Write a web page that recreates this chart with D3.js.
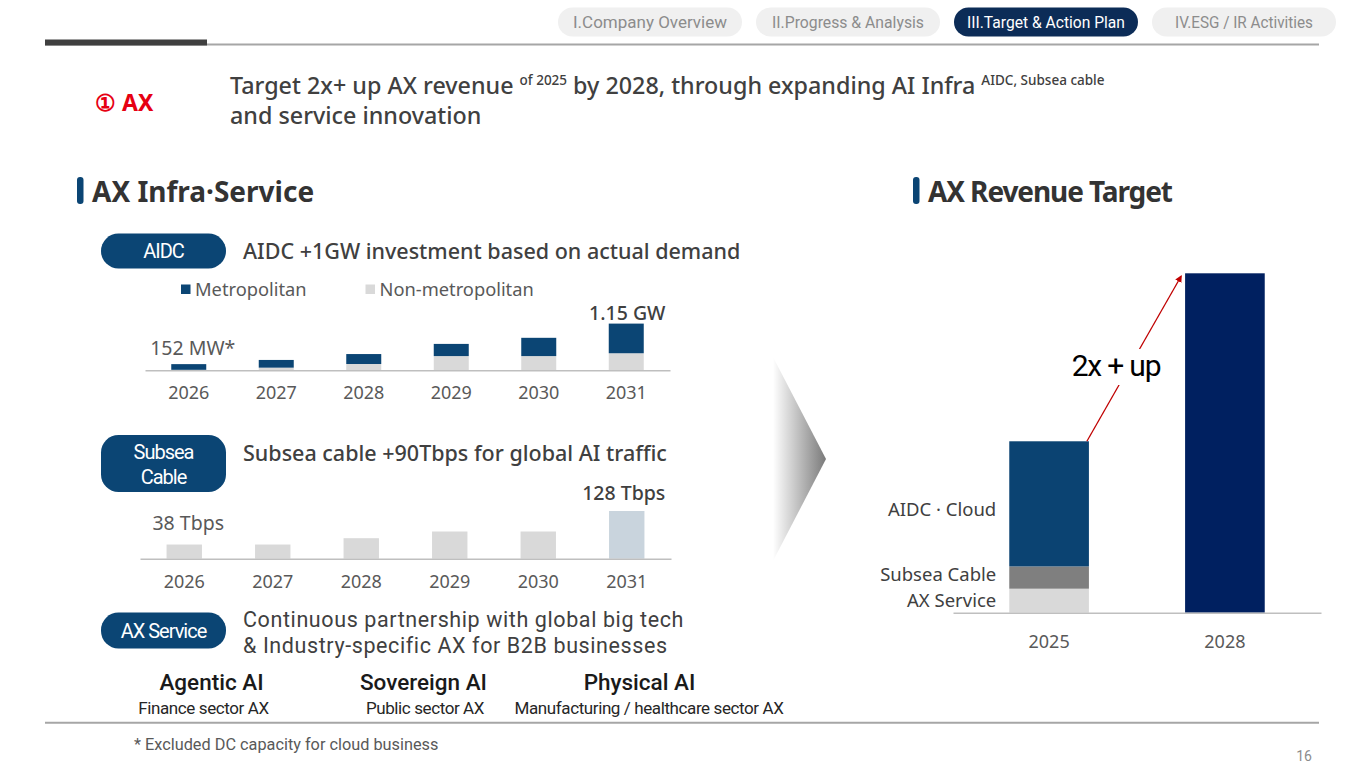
<!DOCTYPE html>
<html lang="en">
<head>
<meta charset="UTF-8">
<title>AX Revenue Target</title>
<style>
  body { margin: 0; background: #fff; }
  svg { display: block; }
  text { font-family: "Noto Sans", sans-serif; }
  .cond { font-family: Roboto, sans-serif; }
  .axis path { stroke: #bfbfbf; stroke-width: 1.5px; }
  .axis text { font-family: "Noto Sans", sans-serif; font-size: 18px; fill: #595959; }
</style>
</head>
<body>
<script src="https://d3js.org/d3.v7.min.js"></script>
<script>
// header tabs
const tabs = ["I.Company Overview", "II.Progress & Analysis", "III.Target & Action Plan", "IV.ESG / IR Activities"];
const activeTab = 2;

// AIDC capacity (MW)
const years = ["2026", "2027", "2028", "2029", "2030", "2031"];
const metroMW = [140, 190, 245, 300, 450, 730];
const nonMetroMW = [12, 65, 155, 350, 350, 420];

// subsea cable capacity (Tbps)
const subseaTbps = [38, 38, 55, 73, 73, 128];

// AX revenue, 2025 = 100
const revYears = ["2025", "2028"];
const revSegments = ["AX Service", "Subsea Cable", "AIDC · Cloud"];
const rev2025 = [14, 13, 73];
const rev2028 = 198;

// AX service tracks
const axTracks = ["Agentic AI", "Sovereign AI", "Physical AI"];
const axSectors = ["Finance sector AX", "Public sector AX", "Manufacturing / healthcare sector AX"];

const W = 1365, H = 768;
const svg = d3.select("body").append("svg")
    .attr("width", W)
    .attr("height", H);

const defs = svg.append("defs");
const grad = defs.append("linearGradient")
    .attr("id", "chev")
    .attr("x1", "0%").attr("x2", "100%")
    .attr("y1", "0%").attr("y2", "0%");
grad.append("stop").attr("offset", "0%").attr("stop-color", "#ffffff");
grad.append("stop").attr("offset", "100%").attr("stop-color", "#7a7a7a");

defs.append("marker")
    .attr("id", "arrowhead")
    .attr("viewBox", "0 0 10 10")
    .attr("refX", 8).attr("refY", 5)
    .attr("markerWidth", 7).attr("markerHeight", 7)
    .attr("markerUnits", "userSpaceOnUse")
    .attr("orient", "auto")
    .append("path")
    .attr("d", "M0,0 L10,5 L0,10 Z")
    .attr("fill", "#c00000");

// ---------- header ----------
const tabX = [558, 756, 954, 1152];
const tabTextW = [154, 152, 158, 138];
const tab = svg.selectAll("g.tab").data(tabs).enter().append("g")
    .attr("class", "tab")
    .attr("transform", (d, i) => `translate(${tabX[i]},7.5)`);
tab.append("rect")
    .attr("width", 184).attr("height", 29).attr("rx", 14.5)
    .attr("fill", (d, i) => i === activeTab ? "#0c2c57" : "#f0f0f0");
tab.append("text")
    .attr("class", "cond")
    .attr("x", 92).attr("y", 20.5)
    .attr("text-anchor", "middle")
    .attr("font-size", 17)
    .attr("textLength", (d, i) => tabTextW[i])
    .attr("lengthAdjust", "spacingAndGlyphs")
    .attr("fill", (d, i) => i === activeTab ? "#ffffff" : "#8c8c8c")
    .text(d => d);

svg.append("line")
    .attr("x1", 45).attr("x2", 1319).attr("y1", 44.5).attr("y2", 44.5)
    .attr("stroke", "#a6a6a6").attr("stroke-width", 2);
svg.append("rect")
    .attr("x", 45).attr("y", 39.5).attr("width", 162).attr("height", 6)
    .attr("fill", "#3f3f3f");

// ---------- title ----------
svg.append("text")
    .attr("x", 95).attr("y", 111)
    .attr("font-size", 23).attr("font-weight", 700)
    .attr("fill", "#e60012")
    .text("① AX");

const title = svg.append("text")
    .attr("x", 230).attr("y", 93.5)
    .attr("font-size", 23.3).attr("font-weight", 500)
    .attr("fill", "#404040");
title.append("tspan").text("Target 2x+ up AX revenue ");
title.append("tspan").attr("font-size", 13.5).attr("dy", -8.5).text("of 2025");
title.append("tspan").attr("dy", 8.5).text("  by 2028, through expanding AI Infra ");
title.append("tspan").attr("font-size", 13.5).attr("dy", -8.5).text("AIDC, Subsea cable");
title.append("tspan")
    .attr("x", 230).attr("dy", 38.5)
    .text("and service innovation");

// ---------- section headers ----------
function sectionHeader(x, label, spacing) {
    svg.append("rect")
        .attr("x", x).attr("y", 177).attr("width", 6.5).attr("height", 27).attr("rx", 3)
        .attr("fill", "#0b4574");
    svg.append("text")
        .attr("x", x + 15).attr("y", 201.5)
        .attr("font-size", 28).attr("font-weight", 700)
        .attr("letter-spacing", spacing)
        .attr("fill", "#333333")
        .text(label);
}
sectionHeader(77, "AX Infra·Service", 0);
sectionHeader(913, "AX Revenue Target", -1.1);

// ---------- pills + headings ----------
function pill(y, h, lines, ty) {
    svg.append("rect")
        .attr("x", 101).attr("y", y).attr("width", 125).attr("height", h).attr("rx", 17.5)
        .attr("fill", "#0b4574");
    const t = svg.append("text")
        .attr("class", "cond")
        .attr("text-anchor", "middle")
        .attr("font-size", 20)
        .attr("letter-spacing", -1)
        .attr("fill", "#ffffff");
    lines.forEach((l, i) => {
        t.append("tspan").attr("x", 163.5).attr("y", ty[i]).text(l);
    });
}
function heading(y, label) {
    svg.append("text")
        .attr("x", 243).attr("y", y)
        .attr("font-size", 21.5).attr("font-weight", 500)
        .attr("fill", "#404040")
        .text(label);
}
pill(233.5, 35, ["AIDC"], [258]);
heading(259, "AIDC +1GW investment based on actual demand");
pill(435, 57, ["Subsea", "Cable"], [458.5, 483.5]);
heading(461, "Subsea cable +90Tbps for global AI traffic");
pill(612.5, 36, ["AX Service"], [638]);
// two-line heading: tighter font box so the lines do not collide
["Continuous partnership with global big tech", "& Industry-specific AX for B2B businesses"].forEach((l, i) => {
    svg.append("text").attr("class", "cond")
        .attr("x", 243).attr("y", 627 + i * 25.5)
        .attr("font-size", 21.5).attr("font-weight", 400)
        .attr("letter-spacing", 0.6)
        .attr("fill", "#404040")
        .text(l);
});

// ---------- AIDC stacked bars ----------
const aidcRows = years.map((y, i) => ({ year: y, metro: metroMW[i], non: nonMetroMW[i] }));
const aidcStack = d3.stack().keys(["non", "metro"])(aidcRows);
const xA = d3.scaleBand().domain(years).range([145, 670]).paddingInner(0.6).paddingOuter(0.3);
const yA = d3.scaleLinear().domain([0, 1150]).range([370.3, 323.6]);
const aidcColor = { metro: "#0b4574", non: "#d9d9d9" };

svg.append("g").selectAll("g").data(aidcStack).enter().append("g")
    .attr("fill", d => aidcColor[d.key])
    .selectAll("rect").data(d => d).enter().append("rect")
    .attr("x", d => xA(d.data.year))
    .attr("width", xA.bandwidth())
    .attr("y", d => yA(d[1]))
    .attr("height", d => yA(d[0]) - yA(d[1]));

svg.append("g")
    .attr("class", "axis")
    .attr("transform", "translate(0,370.3)")
    .call(d3.axisBottom(xA).tickSize(0).tickPadding(15.5))
    .selectAll(".tick line").remove();

// legend
const legend = [["Metropolitan", "#0b4574", 181], ["Non-metropolitan", "#d9d9d9", 365.5]];
legend.forEach(([label, color, lx]) => {
    svg.append("rect").attr("x", lx).attr("y", 284.5).attr("width", 9.5).attr("height", 9.5).attr("fill", color);
    svg.append("text").attr("x", lx + 14).attr("y", 295.5)
        .attr("font-size", 18.3).attr("fill", "#595959").text(label);
});

const aidcFirst = metroMW[0] + nonMetroMW[0];
const aidcLast = metroMW[5] + nonMetroMW[5];
svg.append("text")
    .attr("x", xA(years[0]) + xA.bandwidth() / 2 + 4).attr("y", yA(aidcFirst) - 9)
    .attr("text-anchor", "middle").attr("font-size", 19.5).attr("fill", "#595959")
    .text(aidcFirst + " MW*");
svg.append("text")
    .attr("x", xA(years[5]) + xA.bandwidth() / 2 + 1).attr("y", yA(aidcLast) - 4)
    .attr("text-anchor", "middle").attr("font-size", 19.5).attr("font-weight", 500).attr("fill", "#404040")
    .text((aidcLast / 1000).toFixed(2) + " GW");

// ---------- Subsea bars ----------
const xS = d3.scaleBand().domain(years).range([140, 671]).paddingInner(0.6).paddingOuter(0.3);
const yS = d3.scaleLinear().domain([0, 128]).range([558.7, 511]);

svg.append("g").selectAll("rect").data(subseaTbps).enter().append("rect")
    .attr("x", (d, i) => xS(years[i]))
    .attr("width", xS.bandwidth())
    .attr("y", d => yS(d))
    .attr("height", d => yS(0) - yS(d))
    .attr("fill", (d, i) => i === years.length - 1 ? "#c9d4dd" : "#d9d9d9");

svg.append("g")
    .attr("class", "axis")
    .attr("transform", "translate(0,558.7)")
    .call(d3.axisBottom(xS).tickSize(0).tickPadding(16.5))
    .selectAll(".tick line").remove();

svg.append("text")
    .attr("x", xS(years[0]) + xS.bandwidth() / 2 + 4).attr("y", yS(subseaTbps[0]) - 15)
    .attr("text-anchor", "middle").attr("font-size", 19.5).attr("fill", "#595959")
    .text(subseaTbps[0] + " Tbps");
svg.append("text")
    .attr("x", xS(years[5]) + xS.bandwidth() / 2 - 3).attr("y", yS(subseaTbps[5]) - 11.5)
    .attr("text-anchor", "middle").attr("font-size", 19.5).attr("font-weight", 500).attr("fill", "#404040")
    .text(subseaTbps[5] + " Tbps");

// ---------- AX service tracks ----------
const trackX = [211.5, 423.5, 639.5];
const sectorX = [203.5, 425, 649];
axTracks.forEach((t, i) => {
    svg.append("text").attr("class", "cond")
        .attr("x", trackX[i]).attr("y", 689.5)
        .attr("text-anchor", "middle").attr("font-size", 22.5).attr("font-weight", 500)
        .attr("fill", "#1a1a1a").text(t);
    svg.append("text").attr("class", "cond")
        .attr("x", sectorX[i]).attr("y", 714)
        .attr("text-anchor", "middle").attr("font-size", 17).attr("letter-spacing", -0.4)
        .attr("fill", "#262626").text(axSectors[i]);
});

// ---------- chevron ----------
svg.append("path")
    .attr("d", "M773,357 L826,459 L773,561 Z")
    .attr("fill", "url(#chev)");

// ---------- AX revenue target ----------
const revRows = [
    Object.assign({ year: revYears[0], Total: 0 }, Object.fromEntries(revSegments.map((k, i) => [k, rev2025[i]]))),
    Object.assign({ year: revYears[1], Total: rev2028 }, Object.fromEntries(revSegments.map(k => [k, 0])))
];
const revKeys = revSegments.concat(["Total"]);
const revStack = d3.stack().keys(revKeys)(revRows);
const xR = d3.scaleBand().domain(revYears).range([953, 1321]).paddingInner(0.547).paddingOuter(0.32);
const yR = d3.scaleLinear().domain([0, rev2028]).range([612.7, 273.3]);
const revColor = { "AX Service": "#d9d9d9", "Subsea Cable": "#7f7f7f", "AIDC · Cloud": "#0b4372", "Total": "#002060" };

svg.append("g").selectAll("g").data(revStack).enter().append("g")
    .attr("fill", d => revColor[d.key])
    .selectAll("rect").data(d => d.filter(p => p[1] > p[0])).enter().append("rect")
    .attr("x", d => xR(d.data.year))
    .attr("width", xR.bandwidth())
    .attr("y", d => yR(d[1]))
    .attr("height", d => yR(d[0]) - yR(d[1]));

svg.append("g")
    .attr("class", "axis")
    .attr("transform", "translate(0,612.7)")
    .call(d3.axisBottom(xR).tickSize(0).tickPadding(23))
    .call(g => g.select(".domain").attr("stroke", "#cfcfcf"))
    .call(g => g.selectAll("text").attr("fill", "#404040"))
    .selectAll(".tick line").remove();

// segment labels
const labelShift = { "AX Service": 0, "Subsea Cable": -3, "AIDC · Cloud": 6 };
revStack.filter(s => s.key !== "Total").forEach(s => {
    const p = s[0];
    svg.append("text")
        .attr("x", xR(revYears[0]) - 13)
        .attr("y", (yR(p[0]) + yR(p[1])) / 2 + labelShift[s.key] + 6.5)
        .attr("text-anchor", "end").attr("font-size", 18.5).attr("fill", "#404040")
        .text(s.key);
});

// growth arrow
const total2025 = d3.sum(rev2025);
const ax1 = xR(revYears[0]) + xR.bandwidth() - 2, ay1 = yR(total2025);
const ax2 = xR(revYears[1]) - 4, ay2 = yR(rev2028) + 3;
svg.append("line")
    .attr("x1", ax1).attr("y1", ay1).attr("x2", ax2).attr("y2", ay2)
    .attr("stroke", "#c00000").attr("stroke-width", 1.3)
    .attr("marker-end", "url(#arrowhead)");
svg.append("rect")
    .attr("x", 1068).attr("y", 349).attr("width", 96).attr("height", 36)
    .attr("fill", "#ffffff");
svg.append("text").attr("class", "cond")
    .attr("x", 1116).attr("y", 376)
    .attr("text-anchor", "middle").attr("font-size", 30).attr("letter-spacing", -1.2)
    .attr("fill", "#000000")
    .text("2x + up");

// ---------- footer ----------
svg.append("line")
    .attr("x1", 45).attr("x2", 1319).attr("y1", 722.7).attr("y2", 722.7)
    .attr("stroke", "#a6a6a6").attr("stroke-width", 2);
svg.append("text").attr("class", "cond")
    .attr("x", 134).attr("y", 749.5)
    .attr("font-size", 16.3).attr("fill", "#595959")
    .text("* Excluded DC capacity for cloud business");
svg.append("text").attr("class", "cond")
    .attr("x", 1312).attr("y", 761)
    .attr("text-anchor", "end").attr("font-size", 14).attr("fill", "#8c8c8c")
    .text("16");
</script>
</body>
</html>
